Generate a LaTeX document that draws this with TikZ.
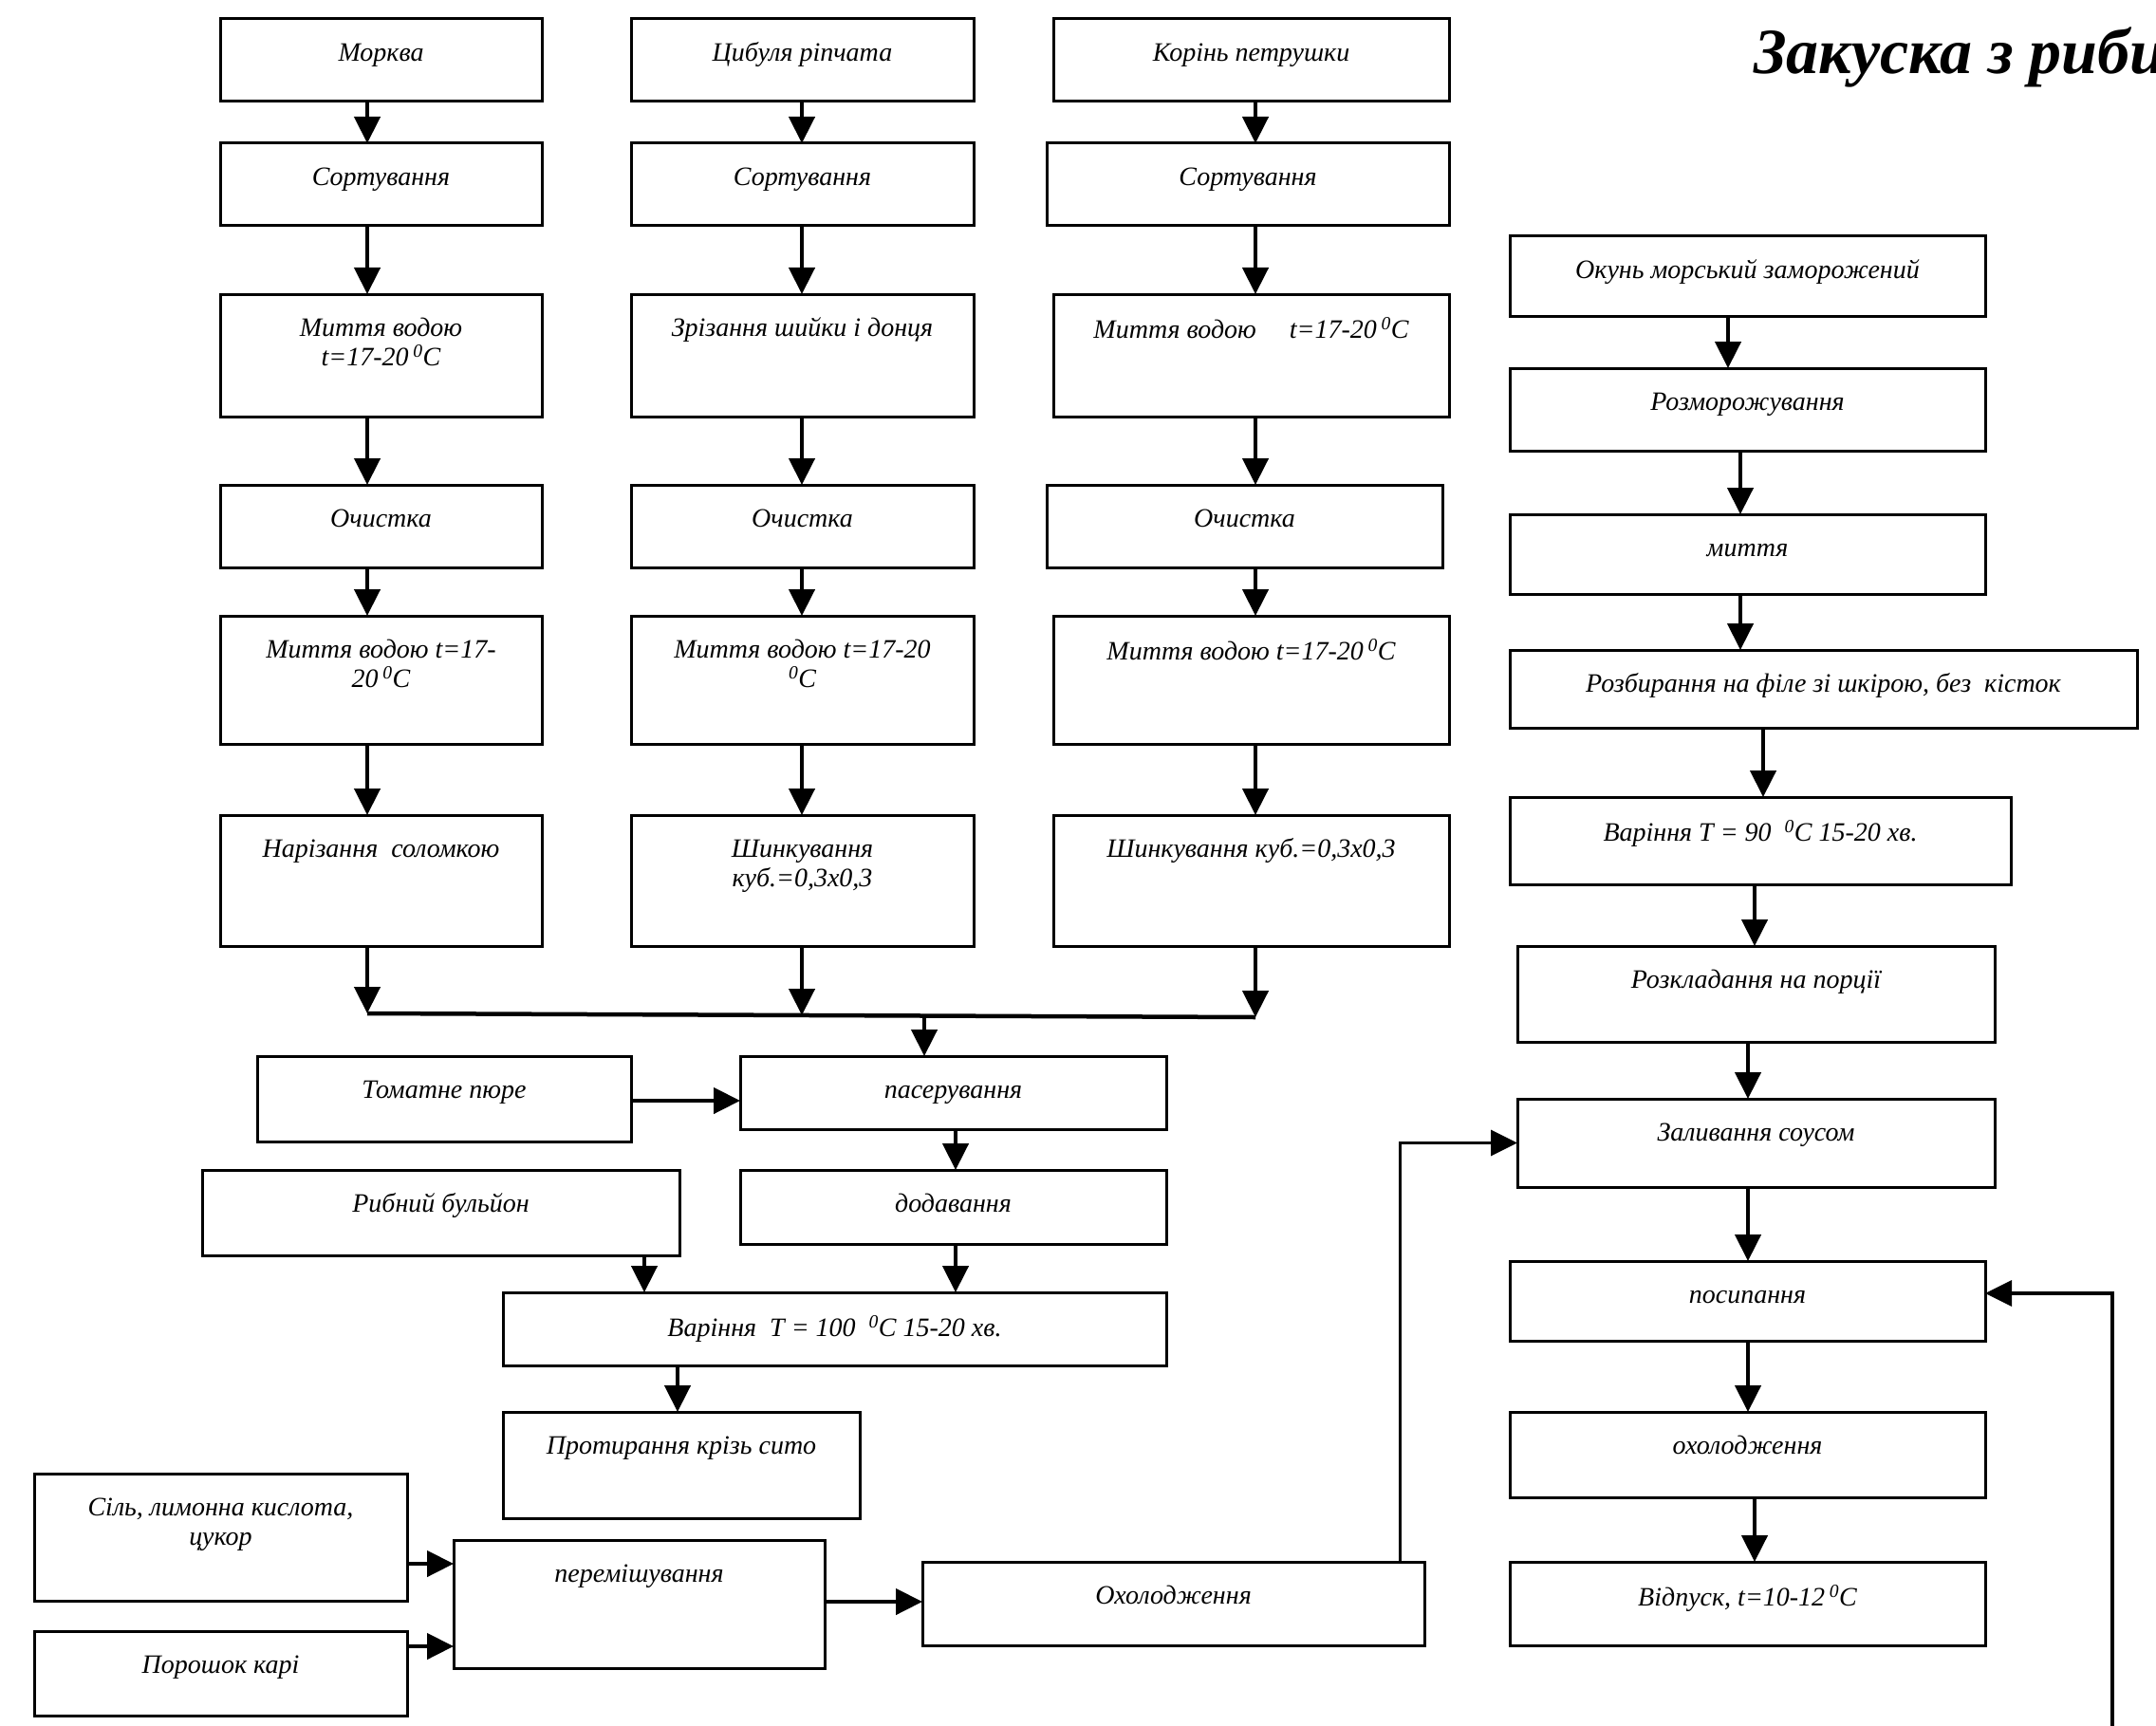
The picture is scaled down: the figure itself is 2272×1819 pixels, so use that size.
\documentclass[tikz,border=0pt]{standalone}
\usepackage{fontspec}
\setmainfont{Liberation Serif}
\usetikzlibrary{arrows.meta,calc}
\tikzset{
  box/.style={draw, line width=3pt, inner sep=0pt, outer sep=0pt},
  txt/.style={inner sep=0pt, align=center, font=\fontsize{28}{31}\selectfont\itshape},
  arr/.style={line width=4.5pt, -{Triangle[length=28pt,width=27pt]}},
  ln/.style={line width=4.5pt},
}
\newcommand\bx[6]{%
  \node[box, anchor=north west, minimum width={#4-#2}, minimum height={#5-#3}] (#1) at (#2,#3) {};
  \node[txt, anchor=north] (#1t) at ($(#1.north)+(0,24)$) {\rule{0pt}{20pt}#6};
}
\newcommand\varr[3]{%
  \coordinate (#1#2x) at (#3,0);
  \draw[arr] (#1.south -| #1#2x) -- (#2.north -| #1#2x);
}
\newcommand\harr[3]{%
  \coordinate (#1#2y) at (0,#3);
  \draw[arr] (#1.east |- #1#2y) -- (#2.west |- #1#2y);
}
\begin{document}
\begin{tikzpicture}[x=1pt,y=-1pt]
\useasboundingbox (0,0) rectangle (2272,1819);
\fill[white] (0,0) rectangle (2272,1819);
\clip (0,0) rectangle (2272,1819);

% title
\node[anchor=base west, inner sep=0pt, font=\fontsize{68}{72}\selectfont\bfseries\itshape] (title) at (1848,78) {Закуска з риби};

% column 1
\bx{a1}{232}{20}{571}{107}{Морква}
\bx{a2}{232}{151}{571}{238}{Сортування}
\bx{a3}{232}{310}{571}{439}{Миття водою\\t=17-20\,\textsuperscript{0}C}
\bx{a4}{232}{511}{571}{598}{Очистка}
\bx{a5}{232}{649}{571}{784}{Миття водою t=17-\\20\,\textsuperscript{0}C}
\bx{a6}{232}{859}{571}{997}{Нарізання\ \ соломкою}

% column 2
\bx{b1}{665}{20}{1026}{107}{Цибуля ріпчата}
\bx{b2}{665}{151}{1026}{238}{Сортування}
\bx{b3}{665}{310}{1026}{439}{Зрізання шийки і донця}
\bx{b4}{665}{511}{1026}{598}{Очистка}
\bx{b5}{665}{649}{1026}{784}{Миття водою t=17-20\\\textsuperscript{0}C}
\bx{b6}{665}{859}{1026}{997}{Шинкування\\куб.=0,3х0,3}

% column 3
\bx{c1}{1110}{20}{1527}{107}{Корінь петрушки}
\bx{c2}{1103}{151}{1527}{238}{Сортування}
\bx{c3}{1110}{310}{1527}{439}{Миття водою\quad\ t=17-20\,\textsuperscript{0}C}
\bx{c4}{1103}{511}{1520}{598}{Очистка}
\bx{c5}{1110}{649}{1527}{784}{Миття водою t=17-20\,\textsuperscript{0}C}
\bx{c6}{1110}{859}{1527}{997}{Шинкування куб.=0,3х0,3}

% middle
\bx{tom}{271}{1113}{665}{1203}{Томатне пюре}
\bx{pas}{780}{1113}{1229}{1190}{пасерування}
\bx{rib}{213}{1233}{716}{1323}{Рибний бульйон}
\bx{dod}{780}{1233}{1229}{1311}{додавання}
\bx{var}{530}{1362}{1229}{1439}{Варіння\ \ T = 100\ \ \textsuperscript{0}C 15-20 хв.}
\bx{pro}{530}{1488}{906}{1600}{Протирання крізь сито}
\bx{sil}{36}{1553}{429}{1687}{Сіль, лимонна кислота,\\цукор}
\bx{por}{36}{1719}{429}{1808}{Порошок карі}
\bx{per}{478}{1623}{869}{1758}{перемішування}
\bx{okh}{972}{1646}{1501}{1734}{Охолодження}

% right column
\bx{r1}{1591}{249}{2092}{333}{Окунь морський заморожений}
\bx{r2}{1591}{388}{2092}{475}{Розморожування}
\bx{r3}{1591}{542}{2092}{626}{миття}
\bx{r4}{1591}{685}{2252}{767}{Розбирання на філе зі шкірою, без\ \ кісток}
\bx{r5}{1591}{840}{2119}{932}{Варіння T = 90\ \ \textsuperscript{0}C 15-20 хв.}
\bx{r6}{1599}{997}{2102}{1098}{Розкладання на порції}
\bx{r7}{1599}{1158}{2102}{1251}{Заливання соусом}
\bx{r8}{1591}{1329}{2092}{1413}{посипання}
\bx{r9}{1591}{1488}{2092}{1578}{охолодження}
\bx{r10}{1591}{1646}{2092}{1734}{Відпуск, t=10-12\,\textsuperscript{0}C}

% column arrows
\varr{a1}{a2}{387}\varr{a2}{a3}{387}\varr{a3}{a4}{387}\varr{a4}{a5}{387}\varr{a5}{a6}{387}
\varr{b1}{b2}{845}\varr{b2}{b3}{845}\varr{b3}{b4}{845}\varr{b4}{b5}{845}\varr{b5}{b6}{845}
\varr{c1}{c2}{1323}\varr{c2}{c3}{1323}\varr{c3}{c4}{1323}\varr{c4}{c5}{1323}\varr{c5}{c6}{1323}

% merge
\coordinate (m1) at (387,1068);
\coordinate (m2) at (845,1070);
\coordinate (m3) at (1323,1072);
\coordinate (mj) at (974,1070);
\draw[arr] (a6.south -| m1) -- (m1);
\draw[arr] (b6.south -| m2) -- (m2);
\draw[arr] (c6.south -| m3) -- (m3);
\draw[ln] (m1) -- (m3);
\draw[arr] (mj) -- (pas.north -| mj);

% middle connectors
\harr{tom}{pas}{1160}
\varr{pas}{dod}{1007}
\varr{rib}{var}{679}
\varr{dod}{var}{1007}
\varr{var}{pro}{714}
\harr{sil}{per}{1648}
\harr{por}{per}{1735}
\harr{per}{okh}{1688}
\coordinate (okup) at (1475,0);
\draw[arr, line width=3pt] (okh.north -| okup) |- (r7.west);

% right column arrows
\varr{r1}{r2}{1821}\varr{r2}{r3}{1834}\varr{r3}{r4}{1834}\varr{r4}{r5}{1858}
\varr{r5}{r6}{1849}\varr{r6}{r7}{1842}\varr{r7}{r8}{1842}\varr{r8}{r9}{1842}\varr{r9}{r10}{1849}

% feedback line from bottom
\coordinate (fb) at (2226,1830);
\coordinate (fbt) at (2226,1363);
\draw[arr, line width=3.5pt] (fb) -- (fbt) -- (fbt -| r8.east);
\end{tikzpicture}
\end{document}
